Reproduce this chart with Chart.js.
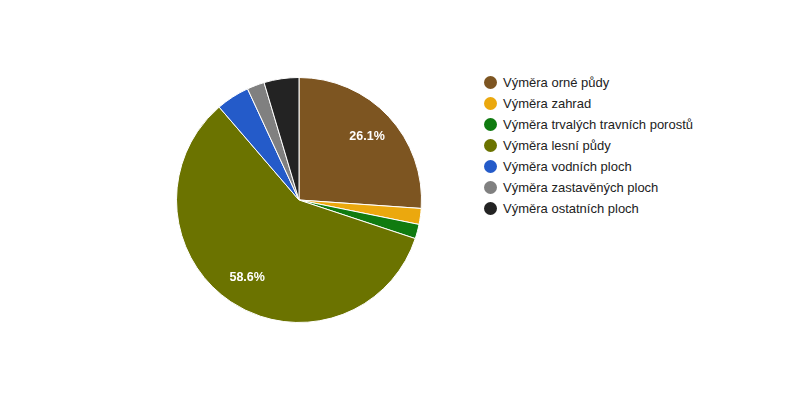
<!DOCTYPE html>
<html>
<head>
<meta charset="utf-8">
<script src="https://cdn.jsdelivr.net/npm/chart.js@4"></script>
<style>
  body { margin: 0; background: #fff; font-family: Arial, "Liberation Sans", sans-serif; }
  #wrap { position: relative; width: 800px; height: 400px; }
  #pie { position: absolute; left: 176px; top: 77px; width: 246px; height: 246px; }
  #legend { position: absolute; left: 484px; top: 73px; margin: 0; padding: 0; list-style: none; font-size: 13px; color: #222; }
  #legend li { height: 21px; line-height: 20px; white-space: nowrap; }
  #legend i { display: inline-block; width: 13px; height: 13px; border-radius: 50%; vertical-align: -2px; margin-right: 6px; }
</style>
</head>
<body>
<div id="wrap">
  <div id="pie"><canvas id="c"></canvas></div>
  <ul id="legend"></ul>
</div>
<script>
// Land use shares (%)
const LABELS = ["Výměra orné půdy", "Výměra zahrad", "Výměra trvalých travních porostů", "Výměra lesní půdy", "Výměra vodních ploch", "Výměra zastavěných ploch", "Výměra ostatních ploch"];
const VALUES = [26.1, 2.1, 1.9, 58.6, 4.4, 2.3, 4.6];
const COLORS = ["#7d5521", "#eba80e", "#107b10", "#6b7300", "#245bc9", "#808080", "#232323"];
const MIN_LABEL = 10; // only slices above this get a % label

const $ = (id) => document.getElementById(id);

$("legend").innerHTML = LABELS.map((l, i) => `<li><i style="background:${COLORS[i]}"></i>${l}</li>`).join("");

// white % labels inside the big slices
const sliceLabels = {
  id: "sliceLabels",
  afterDatasetsDraw(chart) {
    const { ctx } = chart;
    const total = VALUES.reduce((a, b) => a + b, 0);
    ctx.save();
    ctx.fillStyle = "#fff";
    ctx.font = "bold 12.5px Arial, 'Liberation Sans', sans-serif";
    ctx.textAlign = "center";
    ctx.textBaseline = "middle";
    chart.getDatasetMeta(0).data.forEach((arc, i) => {
      const pct = (VALUES[i] / total) * 100;
      if (pct < MIN_LABEL) return;
      const a = (arc.startAngle + arc.endAngle) / 2;
      const r = arc.outerRadius * 0.76;
      ctx.fillText(`${pct.toFixed(1)}%`, arc.x + Math.cos(a) * r, arc.y + Math.sin(a) * r);
    });
    ctx.restore();
  },
};

new Chart($("c"), {
  type: "pie",
  data: { labels: LABELS, datasets: [{ data: VALUES, backgroundColor: COLORS, borderColor: "#fff", borderWidth: 1 }] },
  options: {
    responsive: true,
    maintainAspectRatio: false,
    animation: false,
    layout: { padding: 0 },
    plugins: { legend: { display: false }, tooltip: { enabled: false } },
  },
  plugins: [sliceLabels],
});
</script>
</body>
</html>
